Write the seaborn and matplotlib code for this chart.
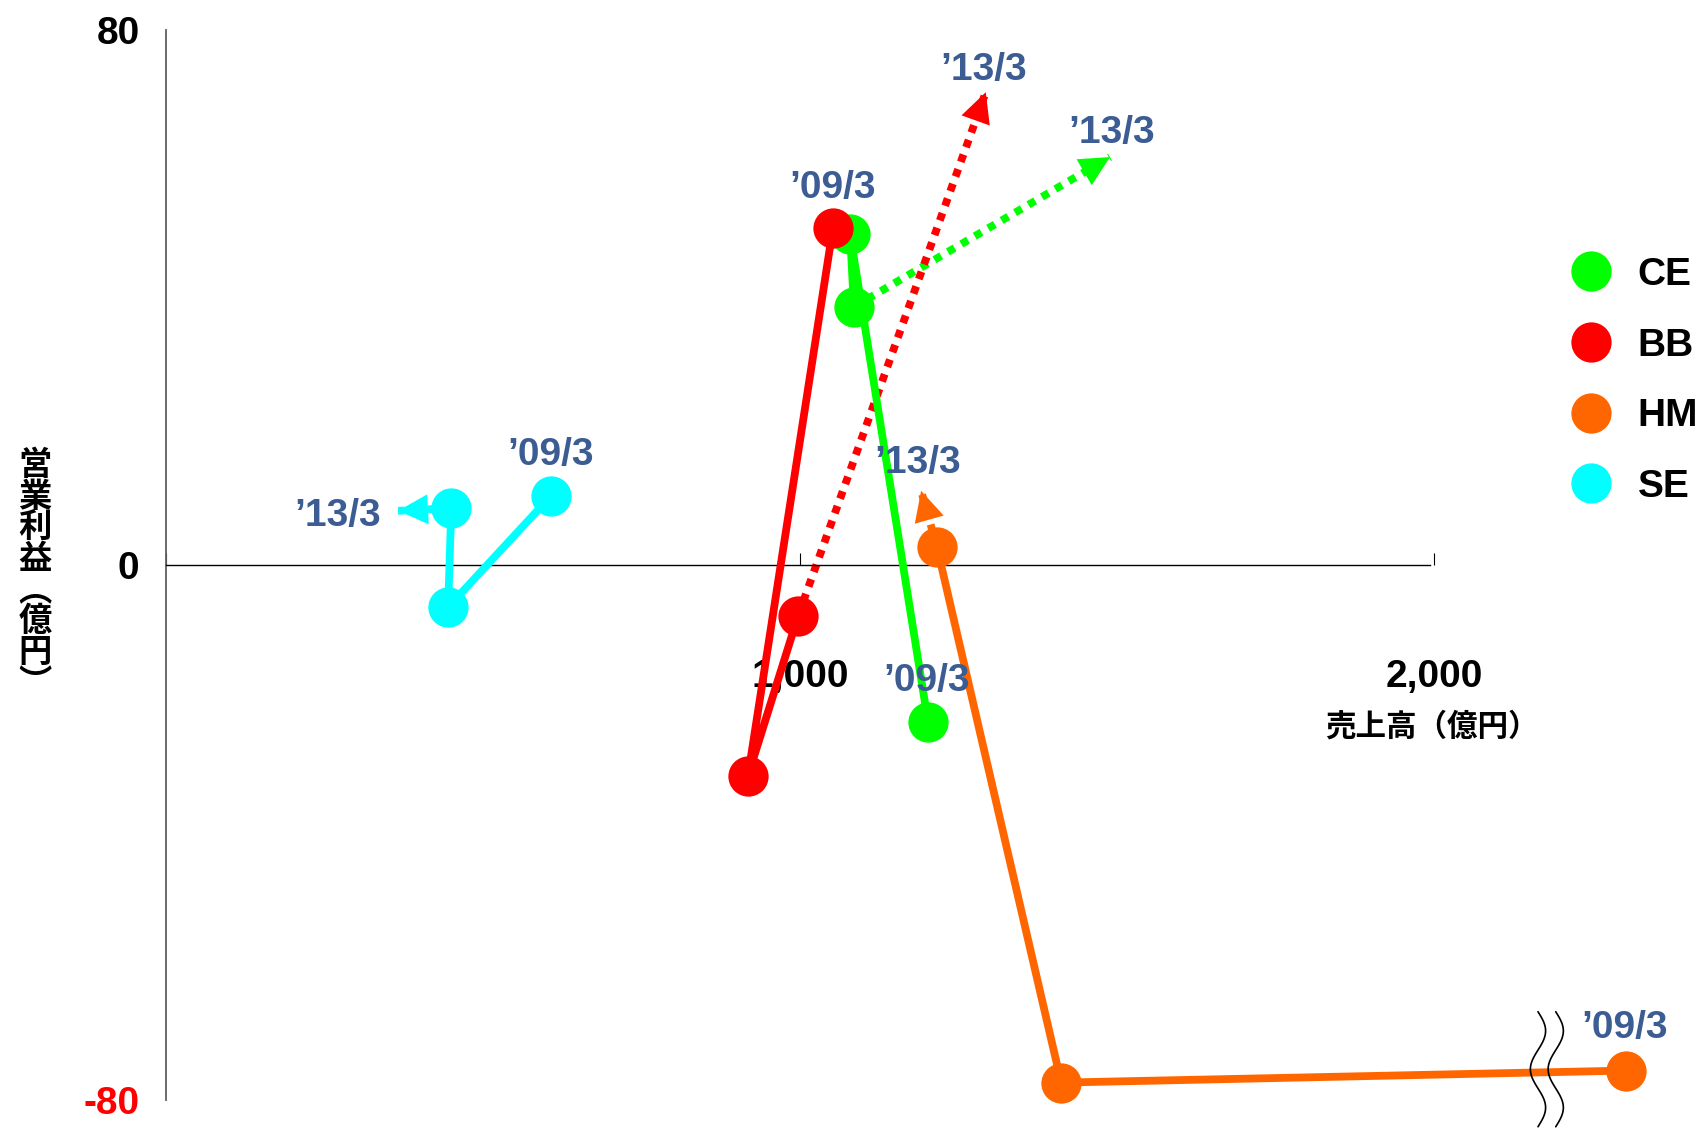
import numpy as np
import pandas as pd
import matplotlib
matplotlib.use("Agg")
import matplotlib.pyplot as plt
from matplotlib.lines import Line2D
import seaborn as sns

sns.set_style("white")
plt.rcParams['font.family'] = ['Liberation Sans', 'Noto Sans CJK JP', 'DejaVu Sans']
plt.rcParams['font.weight'] = 'bold'
plt.rcParams['text.color'] = 'black'
plt.rcParams['xtick.color'] = 'black'
plt.rcParams['ytick.color'] = 'black'
plt.rcParams['axes.labelcolor'] = 'black'

# Data (sales in 億円, operating profit in 億円), three yearly points from '09/3
companies = ["CE", "BB", "HM", "SE"]
ce_sales = [1202, 1079, 1085]
ce_profit = [-23.5, 49.5, 38.6]
bb_sales = [1052, 918, 997]
bb_profit = [50.4, -31.5, -7.6]
hm_sales = [2303, 1412, 1216]   # first point sits beyond the axis break
hm_profit = [-75.6, -77.4, 2.7]
se_sales = [607, 445, 450]
se_profit = [10.3, -6.3, 8.5]

# '13/3 forecast (arrow tips)
target_sales = [1489, 1293, 1191, 366]
target_profit = [61.0, 70.7, 11.1, 8.1]

xticks = [0, 1000, 2000]
xticklabels = ["", "1,000", "2,000"]
yticks = [-80, 0, 80]
yticklabels = ["-80", "0", "80"]

# label positions for '09/3 and '13/3 tags
label_09_pos = [(1200, -17.3), (1052, 56.4), (2301, -69.3), (606, 16.4)]
label_13_pos = [(1492, 64.6), (1289, 74.0), (1186, 15.2), (271, 7.4)]

colors = {"CE": "#00FF00", "BB": "#FF0000", "HM": "#FF6600", "SE": "#00FFFF"}
label_color = "#3C5C94"

sales = [ce_sales, bb_sales, hm_sales, se_sales]
profit = [ce_profit, bb_profit, hm_profit, se_profit]
rows = []
for c, s, p in zip(companies, sales, profit):
    for i, (sv, pv) in enumerate(zip(s, p)):
        rows.append({"company": c, "step": i, "sales": sv, "profit": pv})
df = pd.DataFrame(rows)

fig = plt.figure(figsize=(17.06, 11.30), dpi=100)
ax = fig.add_axes([166 / 1706, 30 / 1130, 1 - 166 / 1706, 1070 / 1130])

# dotted forecast lines + arrow heads
for c, s, p, tx, ty in zip(companies, sales, profit, target_sales, target_profit):
    ax.plot([s[-1], tx], [p[-1], ty], color=colors[c], lw=5.6,
            ls=(0, (1, 1)), dash_capstyle='butt', zorder=2, clip_on=False)
    bx = tx - 0.05 * (tx - s[-1])
    by = ty - 0.05 * (ty - p[-1])
    ax.annotate("", xy=(tx, ty), xytext=(bx, by),
                arrowprops=dict(arrowstyle='-|>', color=colors[c], lw=0,
                                mutation_scale=54, shrinkA=0, shrinkB=0),
                zorder=2, annotation_clip=False)

sns.lineplot(data=df, x="sales", y="profit", hue="company", palette=colors,
             hue_order=companies, sort=False, estimator=None, units="company",
             marker="o", markersize=29, markeredgewidth=0, linewidth=5.6,
             legend=False, ax=ax, zorder=3, clip_on=False)

for c, (x9, y9), (x13, y13) in zip(companies, label_09_pos, label_13_pos):
    ax.text(x9, y9, "\u201909/3", color=label_color, fontsize=28,
            fontweight='bold', ha='center', va='center', zorder=5)
    ax.text(x13, y13, "\u201913/3", color=label_color, fontsize=28,
            fontweight='bold', ha='center', va='center', zorder=5)

# axes styling
ax.set_xlim(0, 2429)
ax.set_ylim(-80, 80)
for side in ["top", "right"]:
    ax.spines[side].set_visible(False)
ax.spines['bottom'].set_position(('data', 0))
ax.spines['bottom'].set_bounds(0, 1994)
ax.spines['bottom'].set_color('black')
ax.spines['bottom'].set_linewidth(1.0)
ax.spines['left'].set_color('#606060')
ax.spines['left'].set_linewidth(1.3)

ax.set_xticks(xticks)
ax.set_xticklabels(xticklabels, fontsize=28, fontweight='bold')
ax.tick_params(axis='x', direction='in', length=8.6, width=0.8, pad=68, bottom=True)
ax.set_yticks(yticks)
ax.set_yticklabels(yticklabels, fontsize=28, fontweight='bold')
ax.tick_params(axis='y', length=0, pad=19)
ax.get_yticklabels()[0].set_color('red')

ax.set_xlabel("売上高（億円）", fontsize=22, fontweight='bold')
ax.xaxis.set_label_coords(0.822, 0.362)
ax.set_ylabel("\n".join("営業利益︵億円︶"), fontsize=24, fontweight='bold',
              rotation=0, ha='center', va='center', linespacing=1.0)
ax.yaxis.set_label_coords(-0.085, 0.490)

# axis break marks
t = np.linspace(0, 3 * np.pi, 120)
yy = np.linspace(-66.8, -84, 120)
for x0 in [2164, 2192]:
    ax.plot(x0 + 12 * np.sin(t), yy, color='black', lw=1.2, zorder=4, clip_on=False)

handles = [Line2D([], [], marker='o', ls='none', color=colors[c],
                  markersize=29, markeredgewidth=0) for c in companies]
ax.legend(handles, companies, loc='upper left', bbox_to_anchor=(1562 / 1706, 873 / 1130),
          bbox_transform=fig.transFigure, frameon=False, borderpad=0, borderaxespad=0,
          handlelength=1.5, handletextpad=0.45, labelspacing=0.89,
          prop={'size': 28, 'weight': 'bold'})

fig.savefig("out.png", dpi=100)
